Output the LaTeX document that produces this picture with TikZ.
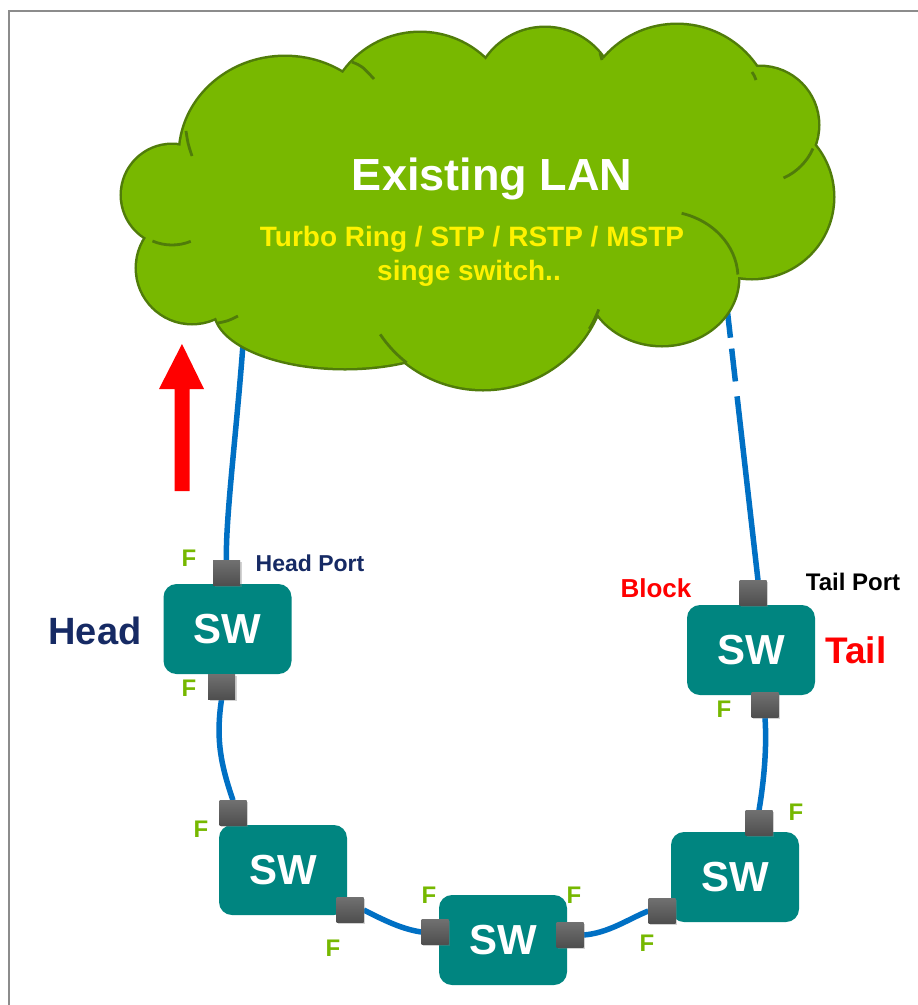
\documentclass[tikz,border=0pt]{standalone}
\usepackage{fontspec}
\setmainfont{Liberation Sans}
\usetikzlibrary{shadows}
\pgfdeclarelayer{bg}
\pgfsetlayers{bg,main}
\definecolor{cloudfill}{RGB}{120,184,0}
\definecolor{cloudline}{RGB}{80,124,10}
\definecolor{teal}{RGB}{0,133,128}
\definecolor{porttop}{RGB}{112,112,112}
\definecolor{portbot}{RGB}{78,78,78}
\definecolor{linkblue}{RGB}{0,112,196}
\definecolor{fgreen}{RGB}{118,184,0}
\definecolor{navy}{RGB}{22,42,100}
\definecolor{framegray}{RGB}{140,140,140}
\newcommand\myfs[1]{\fontsize{#1}{#1}\selectfont\bfseries}
\tikzset{
  swbox/.style={rounded corners=13pt, fill=teal, minimum width=128pt, minimum height=90pt, inner sep=0pt, text=white, font=\myfs{42}},
  port/.style={top color=porttop, bottom color=portbot, minimum width=27pt, minimum height=25pt, inner sep=0pt, drop shadow={shadow xshift=1.5pt, shadow yshift=-1.5pt, opacity=0.35}},
  flab/.style={text=fgreen, font=\myfs{24}, anchor=base, inner sep=0pt},
  lab/.style={font=\myfs{#1}, anchor=base, inner sep=0pt},
  link/.style={draw=linkblue, line width=5.5pt},
  cloudedge/.style={draw=cloudline, line width=5pt},
  cloudtail/.style={draw=cloudline, line width=2.8pt},
}
\begin{document}
\begin{tikzpicture}[x=1pt, y=-1pt]
\useasboundingbox (0,0) rectangle (918,1005);
% frame
\draw[framegray, line width=2pt] (9,1005) -- (9,11) -- (918,11);
% cloud: outlines of all bumps, then their fills
\foreach \cx/\cy/\rx/\ry in {172/195/50/50, 192/268/55/55, 345/310/130/58, 483/265/124/124, 662/278/76/67, 752/197/81/81, 760/125/58/58, 677/121/96/96, 545/99/71/71, 420/127/94/94, 285/155/105/98}
  \draw[cloudedge] (\cx,\cy) ellipse[x radius=\rx, y radius=\ry];
\foreach \cx/\cy/\rx/\ry in {172/195/50/50, 192/268/55/55, 345/310/130/58, 483/265/124/124, 662/278/76/67, 752/197/81/81, 760/125/58/58, 677/121/96/96, 545/99/71/71, 420/127/94/94, 285/155/105/98}
  \fill[cloudfill] (\cx,\cy) ellipse[x radius=\rx, y radius=\ry];
\fill[cloudfill] (480,210) ellipse[x radius=300, y radius=110];
% interior tails of the cloud bumps
\draw[cloudtail] ([shift={(113:50)}]172,195) arc[start angle=113, end angle=68, radius=50];
\draw[cloudtail] ([shift={(146:124)}]483,265) arc[start angle=146, end angle=128, radius=124];
\draw[cloudtail] ([shift={(21:124)}]483,265) arc[start angle=21, end angle=31, radius=124];
\draw[cloudtail] ([shift={(-75:76 and 67)}]662,278) arc[start angle=-75, end angle=-3, x radius=76, y radius=67];
\draw[cloudtail] ([shift={(66:58)}]760,125) arc[start angle=66, end angle=24, radius=58];
\draw[cloudtail] (186,131) .. controls (188,144) .. (192,156);
\draw[cloudtail] (218,323) .. controls (228,321) .. (238,316);
\draw[cloudtail] (352,62) .. controls (362,66) .. (374,79);
\draw[cloudtail] (752,72) .. controls (754,75) .. (756,80);
\draw[cloudtail] (600,53) .. controls (601,56) .. (602,60);
\coordinate (c1) at (244,330);
\coordinate (c2) at (725,290);
\node[lab=45, text=white] (lan) at (492,190) {Existing LAN};
\node[lab=28, text=yellow] (proto) at (472,246) {Turbo Ring / STP / RSTP / MSTP};
\node[lab=28, text=yellow] (single) at (469,280) {singe switch..};
% red arrow
\fill[red] (182,344) -- (204,389) -- (189.5,389) -- (189.5,491) -- (174.5,491) -- (174.5,389) -- (159,389) -- cycle;
% switches
\node[swbox] (h) at (227.5,629) {SW};
\node[swbox] (t) at (751,650) {SW};
\node[swbox] (s1) at (283,870) {SW};
\node[swbox] (s2) at (503,940) {SW};
\node[swbox] (s3) at (735,877) {SW};
% ports
\node[port] (ht) at (226.5,573) {};
\node[port] (hb) at (221.5,687) {};
\node[port] (tt) at (753,593) {};
\node[port] (tb) at (765,705) {};
\node[port] (s1t) at (233,813) {};
\node[port] (s1b) at (350,910) {};
\node[port] (s2l) at (435,932) {};
\node[port] (s2r) at (570,935) {};
\node[port] (s3t) at (759,823) {};
\node[port] (s3l) at (662,911) {};
% labels
\node[lab=38, text=navy] (headlab) at (95,644) {Head};
\node[lab=23, text=navy] (hportlab) at (310,571) {Head Port};
\node[lab=26, text=red] (blocklab) at (656,597) {Block};
\node[lab=24, text=black] (tportlab) at (853,590) {Tail Port};
\node[lab=37, text=red] (taillab) at (856,663) {Tail};
\node[flab] (f1) at (189,566.5) {F};
\node[flab] (f2) at (189,696.5) {F};
\node[flab] (f3) at (724,717.5) {F};
\node[flab] (f4) at (201,837.5) {F};
\node[flab] (f5) at (333,956.5) {F};
\node[flab] (f6) at (429,903.5) {F};
\node[flab] (f7) at (574,903.5) {F};
\node[flab] (f8) at (796,820.5) {F};
\node[flab] (f9) at (647,951.5) {F};
% connectors
\begin{pgfonlayer}{bg}
\fill[white] (0,0) rectangle (918,1005);
\draw[link] (c1) .. controls (238,420) and (225,520) .. (ht.north);
\draw[link, dash pattern=on 48pt off 11pt on 33pt off 15pt on 400pt off 0pt] (c2) -- ([xshift=5pt]tt.north);
\draw[link] (hb.south) .. controls +(-6,40) and +(-12,-35) .. (s1t.north);
\draw[link] (s1b.east) .. controls +(20,10) and +(-20,-3) .. (s2l.west);
\draw[link] (s2r.east) .. controls +(25,-2) and +(-20,8) .. (s3l.west);
\draw[link] (s3t.north) .. controls +(5,-30) and +(2,30) .. (tb.south);
\end{pgfonlayer}
\end{tikzpicture}
\end{document}
